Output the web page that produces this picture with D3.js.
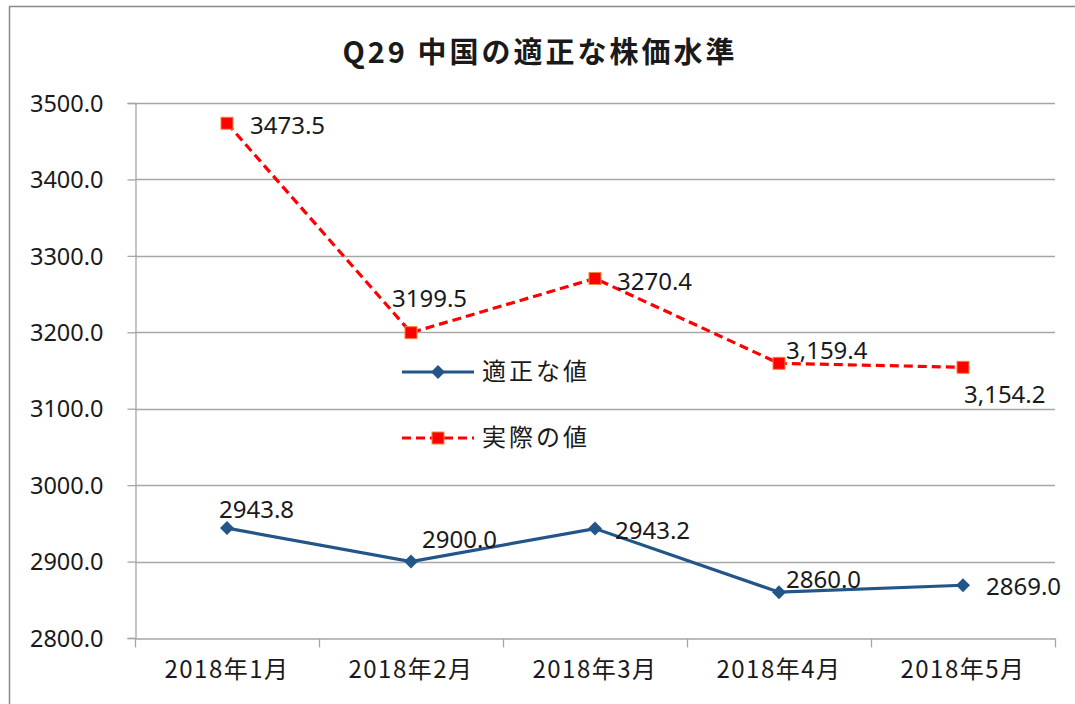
<!DOCTYPE html>
<html><head><meta charset="utf-8">
<script src="https://cdn.jsdelivr.net/npm/d3@7"></script>
<style>
html,body{margin:0;padding:0;background:#fff;}
svg{display:block;}
text{font-family:"Noto Sans CJK JP","Noto Sans",sans-serif;fill:#1a1a1a;}
</style></head>
<body>
<svg id="chart" width="1075" height="704"></svg>
<script>
const title = "Q29 中国の適正な株価水準";
const categories = ["2018年1月","2018年2月","2018年3月","2018年4月","2018年5月"];
const seriesNames = ["適正な値","実際の値"];
const fairValues = [2943.8, 2900.0, 2943.2, 2860.0, 2869.0];
const actualValues = [3473.5, 3199.5, 3270.4, 3159.4, 3154.2];
const fairLabels = ["2943.8","2900.0","2943.2","2860.0","2869.0"];
const actualLabels = ["3473.5","3199.5","3270.4","3,159.4","3,154.2"];
const yTicks = [2800,2900,3000,3100,3200,3300,3400,3500];

// label placement offsets (dx, dy from marker; anchor start)
const fairLabelPos = [[-8,-18],[11,-22],[20,2],[7,-13],[23,1]];
const actualLabelPos = [[23,2],[-19,-34],[22,3],[7,-13],[1,27]];

const svg = d3.select("#chart");
const W = 1075, H = 704;
const m = {left:135, right:1055, top:103, bottom:638};

svg.append("rect").attr("x",9.5).attr("y",6.5).attr("width",W).attr("height",H)
  .attr("fill","#fff").attr("stroke","#8a8a8a").attr("stroke-width",1.5);

const x = d3.scaleBand().domain(categories).range([m.left,m.right]).padding(0);
const y = d3.scaleLinear().domain([2800,3500]).range([m.bottom,m.top]);

// gridlines
svg.append("g").selectAll("line").data(yTicks.slice(1)).join("line")
  .attr("x1",m.left).attr("x2",m.right)
  .attr("y1",d=>Math.round(y(d))+0.5).attr("y2",d=>Math.round(y(d))+0.5)
  .attr("stroke","#a6a6a6").attr("stroke-width",1.3);

// y axis
const yAxis = d3.axisLeft(y).tickValues(yTicks).tickFormat(d3.format(".1f")).tickSize(8).tickPadding(24);
const gy = svg.append("g").attr("transform",`translate(${m.left+0.5},0)`).call(yAxis);
gy.select(".domain").attr("stroke","#a6a6a6").attr("stroke-width",1.3);
gy.selectAll(".tick line").attr("stroke","#a6a6a6").attr("stroke-width",1.3);
gy.selectAll(".tick text").attr("font-size",23.5).attr("fill","#1a1a1a")
  .style("font-family","'Noto Sans',sans-serif").attr("dy","0.35em");

// x axis
const xAxis = d3.axisBottom(x).tickSize(0).tickPadding(22);
const gx = svg.append("g").attr("transform",`translate(0,${m.bottom+0.5})`).call(xAxis);
gx.select(".domain").attr("stroke","#a6a6a6").attr("stroke-width",1.3);
gx.selectAll(".tick text").attr("font-size",24).attr("letter-spacing",1.5).attr("fill","#1a1a1a");
// category boundary ticks
const bounds = categories.map(c=>x(c)).concat([x.range()[1]]);
gx.append("g").selectAll("line").data(bounds).join("line")
  .attr("x1",d=>Math.round(d)+0.5).attr("x2",d=>Math.round(d)+0.5)
  .attr("y1",0).attr("y2",9).attr("stroke","#a6a6a6").attr("stroke-width",1.3);

const cx = c => x(c) + x.bandwidth()/2;
const line = d3.line().x((d,i)=>cx(categories[i])).y(d=>y(d));

// actual (red dashed)
svg.append("path").datum(actualValues).attr("d",line).attr("fill","none")
  .attr("stroke","#ff0000").attr("stroke-width",3.2).attr("stroke-dasharray","9,5");
svg.append("g").selectAll("rect").data(actualValues).join("rect")
  .attr("x",(d,i)=>cx(categories[i])-6).attr("y",d=>y(d)-6)
  .attr("width",12).attr("height",12).attr("fill","#ff0000").attr("stroke","#f2883a").attr("stroke-width",1);

// fair (blue solid)
const blue = "#245588";
svg.append("path").datum(fairValues).attr("d",line).attr("fill","none")
  .attr("stroke",blue).attr("stroke-width",3.2);
const diamond = d3.symbol().type(d3.symbolDiamond2).size(125);
svg.append("g").selectAll("path").data(fairValues).join("path")
  .attr("d",diamond).attr("transform",(d,i)=>`translate(${cx(categories[i])},${y(d)})`)
  .attr("fill",blue);

// data labels
const labelFont = "'Noto Sans',sans-serif";
svg.append("g").selectAll("text").data(actualValues).join("text")
  .attr("x",(d,i)=>cx(categories[i])+actualLabelPos[i][0])
  .attr("y",(d,i)=>y(d)+actualLabelPos[i][1])
  .attr("dy","0.35em").attr("font-size",24).style("font-family",labelFont)
  .text((d,i)=>actualLabels[i]);
svg.append("g").selectAll("text").data(fairValues).join("text")
  .attr("x",(d,i)=>cx(categories[i])+fairLabelPos[i][0])
  .attr("y",(d,i)=>y(d)+fairLabelPos[i][1])
  .attr("dy","0.35em").attr("font-size",24).style("font-family",labelFont)
  .text((d,i)=>fairLabels[i]);

// legend
const lg = svg.append("g");
const legY = [372, 438];
lg.append("line").attr("x1",402).attr("x2",474).attr("y1",legY[0]).attr("y2",legY[0])
  .attr("stroke",blue).attr("stroke-width",3.2);
lg.append("path").attr("d",diamond).attr("transform",`translate(438,${legY[0]})`).attr("fill",blue);
lg.append("line").attr("x1",402).attr("x2",474).attr("y1",legY[1]).attr("y2",legY[1])
  .attr("stroke","#ff0000").attr("stroke-width",3.2).attr("stroke-dasharray","9,5");
lg.append("rect").attr("x",432).attr("y",legY[1]-6).attr("width",12).attr("height",12)
  .attr("fill","#ff0000").attr("stroke","#f2883a").attr("stroke-width",1);
lg.selectAll("text").data(seriesNames).join("text")
  .attr("x",482).attr("y",(d,i)=>legY[i]).attr("dy","0.35em")
  .attr("font-size",24).attr("letter-spacing",3).text(d=>d);

// title
svg.append("text").attr("x",540).attr("y",53).attr("dy","0.35em").attr("text-anchor","middle")
  .attr("font-size",29).attr("font-weight","bold").attr("letter-spacing",3).text(title);
</script>
</body></html>
